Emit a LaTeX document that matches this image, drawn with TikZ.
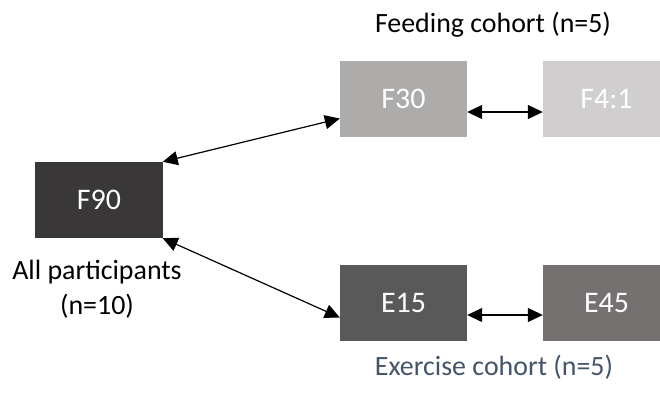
\documentclass[tikz,border=0pt]{standalone}
\usepackage{fontspec}
\setmainfont{Carlito}
\usetikzlibrary{arrows.meta}
\definecolor{cF90}{HTML}{393737}
\definecolor{cF30}{HTML}{AEABAB}
\definecolor{cF41}{HTML}{D0CECE}
\definecolor{cE15}{HTML}{595959}
\definecolor{cE45}{HTML}{767171}
\definecolor{exc}{HTML}{44546A}
\tikzset{
  box/.style={minimum width=127bp, minimum height=76bp, inner sep=0pt, text=white, font=\fontsize{30}{34}\selectfont},
  lab/.style={inner sep=0pt, font=\fontsize{28}{32}\selectfont},
  link/.style={draw=black, line width=1.2bp, {Triangle[length=15bp,width=14bp]}-{Triangle[length=15bp,width=14bp]}}
}
\begin{document}
\begin{tikzpicture}[x=1bp,y=-1bp]
\useasboundingbox (0,0) rectangle (660,392);
\begin{scope}
\clip (0,0) rectangle (660,392);
\node[box, fill=cF90] (f90) at (99,200) {F90};
\node[box, fill=cF30] (f30) at (403.5,98.5) {F30};
\node[box, fill=cF41] (f41) at (606.5,98.5) {F4:1};
\node[box, fill=cE15] (e15) at (403.5,302.5) {E15};
\node[box, fill=cE45] (e45) at (606.5,302.5) {E45};
\end{scope}
\node[lab] (feed) at (493,25) {Feeding cohort (n=5)};
\node[lab, text=exc] (exer) at (494,367) {Exercise cohort (n=5)};
\node[lab, align=center, font=\fontsize{28}{35}\selectfont] (all) at (97,289) {All participants\\(n=10)};
\draw[link] (f90.north east) -- ([yshift=-20bp]f30.west);
\draw[link] (f90.south east) -- ([yshift=-15bp]e15.west);
\draw[link] ([yshift=-13.5bp]f30.east) -- ([yshift=-13.5bp]f41.west);
\draw[link] ([yshift=-12.5bp]e15.east) -- ([yshift=-12.5bp]e45.west);
\end{tikzpicture}
\end{document}
